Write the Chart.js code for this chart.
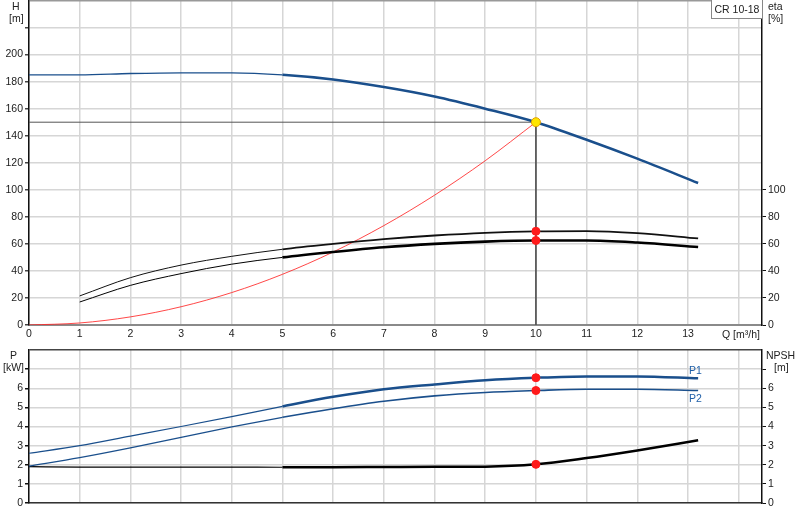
<!DOCTYPE html>
<html><head><meta charset="utf-8">
<script src="https://cdn.jsdelivr.net/npm/chart.js@4.4.1/dist/chart.umd.min.js"></script>
<style>
html,body{margin:0;padding:0;background:#fff;width:800px;height:520px;overflow:hidden;font-family:"Liberation Sans",Arial,sans-serif;}
#top{position:absolute;left:0;top:-5px;width:800px;height:350px;}
#bot{position:absolute;left:0;top:345px;width:800px;height:175px;}
.lbl{position:absolute;font-size:10.5px;color:#222;line-height:12px;white-space:nowrap;}
.box{position:absolute;left:711px;top:0px;width:50px;height:18px;border:1px solid #888;border-top:none;border-right:none;background:#fff;font-size:10.5px;line-height:18px;text-align:center;color:#222;}
</style></head><body>
<div id="top"><canvas id="c1"></canvas></div>
<div id="bot"><canvas id="c2"></canvas></div>
<div class="lbl" style="left:12px;top:0px;">H</div>
<div class="lbl" style="left:9px;top:12px;">[m]</div>
<div class="lbl" style="left:768px;top:0px;">eta</div>
<div class="lbl" style="left:768px;top:12px;">[%]</div>
<div class="box">CR 10-18</div>
<div class="lbl" style="left:722px;top:328px;">Q [m³/h]</div>
<div class="lbl" style="left:10px;top:349px;">P</div>
<div class="lbl" style="left:3px;top:361px;">[kW]</div>
<div class="lbl" style="left:766px;top:349px;">NPSH</div>
<div class="lbl" style="left:774px;top:361px;">[m]</div>
<div class="lbl" style="left:689px;top:364px;color:#1f5fa8;">P1</div>
<div class="lbl" style="left:689px;top:392px;color:#1f5fa8;">P2</div>
<script>
// ---- data ----
const qH = [0,1,2,3,4,5,6,7,8,9,10,11,12,13.2];
const head = [185,185,186,186.5,186.5,185,181.5,176,169,160,150,137,123,105];
const qEta = [1,2,3,4,5,6,7,8,9,10,11,12,13.2];
const etaPump = [21.5,35,44.3,50.8,56,60,63.5,66.2,68.2,69.3,69.5,68,64];
const etaTotal = [17,29.3,38,45,50,54,57.5,60,61.7,62.5,62.5,61,57.7];
const qSys = [0,1,2,3,4,5,6,7,8,9,10];
const sysH = [0,1.5,6,13.5,24,37.5,54,73.5,96,121.5,150];
const dutyQ = 10, dutyH = 150;
const qP = [0,1,2,3,4,5,6,7,8,9,10,11,12,13.2];
const p1 = [2.6,3.0,3.5,4.0,4.52,5.05,5.55,5.95,6.2,6.42,6.55,6.62,6.62,6.52];
const p2 = [1.93,2.37,2.88,3.43,3.98,4.48,4.93,5.32,5.6,5.78,5.88,5.95,5.95,5.88];
const npsh = [1.9,1.88,1.88,1.88,1.88,1.87,1.87,1.88,1.89,1.9,2.02,2.35,2.75,3.28];
const dutyEta = [69.3,62.5];
const dutyP = [6.55,5.88];
const dutyNpsh = 2.02;
const qTicks = [0,1,2,3,4,5,6,7,8,9,10,11,12,13];

const pts = (xs, ys) => xs.map((x,i)=>({x, y: ys[i]}));
const font = {family:'"Liberation Sans", Arial, sans-serif', size:10.5};
const txt = '#222';
const gridC = '#d6d6d6';
const thick = (thin, wide) => ({borderWidth: c => c.p0.parsed.x >= 5 ? wide : thin});
const blue = '#1a4f8c';
const noPad = s => { s.paddingTop = 0; s.paddingBottom = 0; };

function qScale(showLabels){
  return {
    type:'linear', min:0, max:14.46,
    ticks:{stepSize:1, includeBounds:false, autoSkip:false, maxRotation:0, display:showLabels,
      callback: v => qTicks.includes(v) ? String(v) : '', font, color:txt, padding:3},
    grid:{color:gridC, lineWidth:1.5, drawTicks:false},
    border:{display:true, color: showLabels ? '#8a8a8a' : '#333', width: showLabels ? 2 : 1.5},
    afterFit: s => { s.height = showLabels ? 20 : 17; s.paddingLeft = 0; s.paddingRight = 0; }
  };
}

const common = {
  responsive:true, maintainAspectRatio:false, animation:false,
  plugins:{legend:{display:false}, tooltip:{enabled:false}},
  elements:{point:{radius:0}, line:{tension:0.4, cubicInterpolationMode:'monotone'}}
};

new Chart(document.getElementById('c1'), {
  type:'line',
  data:{datasets:[
    {data:[{x:0,y:dutyH},{x:dutyQ,y:dutyH},{x:dutyQ,y:0}], borderColor:'#555', borderWidth:1, tension:0, cubicInterpolationMode:'default', order:2},
    {data:pts(qSys, sysH), borderColor:'rgba(255,40,40,0.85)', borderWidth:1, order:3},
    {data:pts(qH, head), borderColor:blue, borderWidth:2.5, segment:thick(1.3,2.5), order:1},
    {data:pts(qEta, etaPump), borderColor:'#111', borderWidth:1.8, segment:thick(1,1.8), order:1},
    {data:pts(qEta, etaTotal), borderColor:'#000', borderWidth:2.5, segment:thick(1,2.6), order:1},
    {data:[{x:dutyQ,y:dutyEta[0]},{x:dutyQ,y:dutyEta[1]}], showLine:false, pointRadius:4, pointBackgroundColor:'#ff1a1a', pointBorderColor:'#ff1a1a', order:-1},
    {data:[{x:dutyQ,y:dutyH}], showLine:false, pointRadius:4.5, pointBackgroundColor:'#ffe600', pointBorderColor:'#e0a000', pointBorderWidth:1, order:-2}
  ]},
  options:{...common,
    layout:{padding:{top:1,left:0,right:0,bottom:0}},
    scales:{
      x: qScale(true),
      y:{type:'linear', position:'left', min:0, max:240,
        ticks:{stepSize:20, callback: v => v<=200 ? String(v) : '', font, color:txt, padding:2},
        grid:{color: c => c.tick && c.tick.value===240 ? '#999' : gridC, lineWidth:1.5, drawTicks:true, tickLength:4,
          tickColor: c => c.tick && c.tick.value<=220 ? '#444' : 'rgba(0,0,0,0)'},
        border:{color:'#111', width:1.5},
        afterFit: s => { s.width = 29; noPad(s); }},
      eta:{type:'linear', position:'right', min:0, max:240,
        ticks:{stepSize:20, callback: v => v<=100 ? String(v) : '', font, color:txt, padding:2},
        grid:{drawOnChartArea:false, tickLength:4, tickColor: c => c.tick && c.tick.value<=100 ? '#111' : 'rgba(0,0,0,0)'},
        border:{color:'#111', width:1.5},
        afterFit: s => { s.width = 38; noPad(s); }}
    }
  }
});

new Chart(document.getElementById('c2'), {
  type:'line',
  data:{datasets:[
    {data:pts(qP, p1), borderColor:blue, borderWidth:2.5, segment:thick(1.2,2.5)},
    {data:pts(qP, p2), borderColor:blue, borderWidth:1.5, segment:thick(1.2,1.6)},
    {data:pts(qP, npsh), borderColor:'#000', borderWidth:2.5, segment:thick(1.2,2.5)},
    {data:[{x:dutyQ,y:dutyP[0]},{x:dutyQ,y:dutyP[1]},{x:dutyQ,y:dutyNpsh}], showLine:false, pointRadius:4, pointBackgroundColor:'#ff1a1a', pointBorderColor:'#ff1a1a', order:-1}
  ]},
  options:{...common,
    layout:{padding:{top:5,left:0,right:0,bottom:0}},
    scales:{
      x: qScale(false),
      y:{type:'linear', position:'left', min:0, max:8,
        ticks:{stepSize:1, callback: v => v<=6 ? String(v) : '', font, color:txt, padding:2},
        grid:{color: c => c.tick && c.tick.value===8 ? '#444' : gridC, lineWidth:1.5, drawTicks:true, tickLength:4,
          tickColor: c => c.tick && c.tick.value<=7 ? '#111' : 'rgba(0,0,0,0)'},
        border:{color:'#111', width:1.5},
        afterFit: s => { s.width = 29; noPad(s); }},
      npsh:{type:'linear', position:'right', min:0, max:8,
        ticks:{stepSize:1, callback: v => v<=6 ? String(v) : '', font, color:txt, padding:2},
        grid:{drawOnChartArea:false, tickLength:4, tickColor: c => c.tick && c.tick.value<=7 ? '#111' : 'rgba(0,0,0,0)'},
        border:{color:'#111', width:1.5},
        afterFit: s => { s.width = 38; noPad(s); }}
    }
  }
});
</script>
</body></html>
